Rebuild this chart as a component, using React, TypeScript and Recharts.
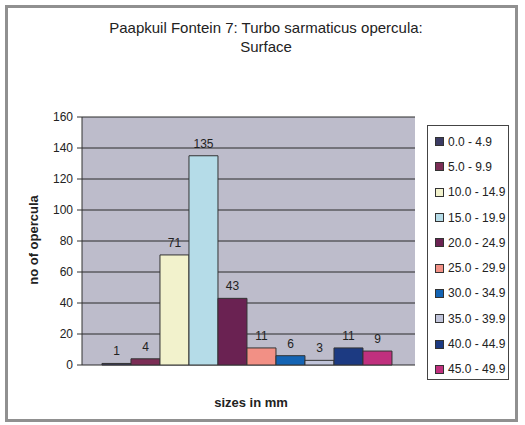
import React from "react";
import { BarChart, Bar, XAxis, YAxis, CartesianGrid, Legend, LabelList } from "recharts";

const sizeClasses = [
  "0.0 - 4.9",
  "5.0 - 9.9",
  "10.0 - 14.9",
  "15.0 - 19.9",
  "20.0 - 24.9",
  "25.0 - 29.9",
  "30.0 - 34.9",
  "35.0 - 39.9",
  "40.0 - 44.9",
  "45.0 - 49.9",
];
const counts = [1, 4, 71, 135, 43, 11, 6, 3, 11, 9];
const barColors = [
  "#3B3B63",
  "#7B2D55",
  "#F2F2CC",
  "#B5DCE8",
  "#6A2252",
  "#F29085",
  "#1464B4",
  "#C0C4DA",
  "#1C3A82",
  "#C0307E",
];
const yTicks = [0, 20, 40, 60, 80, 100, 120, 140, 160];

const row: Record<string, any> = { group: "Surface" };
sizeClasses.forEach((c, i) => {
  row[`s${i}`] = counts[i];
});
const data = [row];

const FONT = "Arial, 'Liberation Sans', sans-serif";

const renderLegend = (props: any) => {
  const payload = [...(props.payload || [])].sort(
    (a: any, b: any) => sizeClasses.indexOf(a.value) - sizeClasses.indexOf(b.value)
  );
  return (
    <div style={{ paddingTop: 3 }}>
      {payload.map((p: any, i: number) => (
        <div
          key={i}
          style={{
            height: 25.3,
            display: "flex",
            alignItems: "center",
            fontSize: 12,
            color: "#222",
            fontFamily: FONT,
            whiteSpace: "nowrap",
          }}
        >
          <span
            style={{
              display: "inline-block",
              width: 7,
              height: 7,
              background: p.color,
              border: "1px solid #333",
              marginLeft: 7,
              marginRight: 4,
            }}
          />
          {p.value}
        </div>
      ))}
    </div>
  );
};

export default function App() {
  return (
    <div
      style={{
        position: "absolute",
        left: 0,
        top: 0,
        width: 525,
        height: 425,
        background: "#fff",
        fontFamily: FONT,
      }}
    >
      <div
        style={{
          position: "absolute",
          left: 5,
          top: 5,
          width: 513,
          height: 417,
          border: "3px solid #909090",
          boxSizing: "border-box",
        }}
      />
      <div
        style={{
          position: "absolute",
          left: 66,
          top: 18,
          width: 400,
          textAlign: "center",
          fontSize: 15,
          lineHeight: "19px",
          color: "#222",
        }}
      >
        Paapkuil Fontein 7: Turbo sarmaticus opercula:
        <br />
        Surface
      </div>
      <div style={{ position: "absolute", left: 0, top: 0 }}>
        <BarChart
          width={525}
          height={425}
          data={data}
          margin={{ top: 117, right: 110, bottom: 60, left: 42 }}
          barCategoryGap="6%"
          barGap={0}
        >
          <CartesianGrid vertical={false} stroke="#2a2a2a" fill="#BDBCCB" fillOpacity={1} />
          <XAxis dataKey="group" tick={false} tickLine={false} height={0} axisLine={{ stroke: "#333" }} />
          <YAxis
            domain={[0, 160]}
            ticks={yTicks}
            interval={0}
            width={40}
            tickSize={5}
            tickMargin={4}
            tick={{ fontSize: 12, fill: "#222", fontFamily: FONT }}
            tickLine={{ stroke: "#333" }}
            axisLine={{ stroke: "#333" }}
          />
          <YAxis
            yAxisId="right"
            orientation="right"
            domain={[0, 160]}
            width={0}
            tick={false}
            tickLine={false}
            axisLine={{ stroke: "#222" }}
          />
          <Legend
            layout="vertical"
            align="center"
            verticalAlign="middle"
            itemSorter="dataKey"
            content={renderLegend}
            wrapperStyle={{
              position: "absolute",
              left: 427,
              top: 125,
              width: 82,
              height: 255,
              border: "1px solid #444",
              background: "#fff",
              boxSizing: "border-box",
            }}
          />
          {sizeClasses.map((c, i) => (
            <Bar
              key={c}
              dataKey={`s${i}`}
              name={c}
              fill={barColors[i]}
              stroke="#333"
              strokeWidth={1}
              isAnimationActive={false}
            >
              <LabelList
                dataKey={`s${i}`}
                position="top"
                offset={8}
                fontSize={12}
                fill="#222"
                fontFamily={FONT}
              />
            </Bar>
          ))}
        </BarChart>
      </div>
      <div
        style={{
          position: "absolute",
          left: 33,
          top: 240,
          transform: "translate(-50%, -50%) rotate(-90deg)",
          fontSize: 13,
          fontWeight: "bold",
          color: "#222",
          whiteSpace: "nowrap",
        }}
      >
        no of opercula
      </div>
      <div
        style={{
          position: "absolute",
          left: 251,
          top: 402,
          transform: "translate(-50%, -50%)",
          fontSize: 13,
          fontWeight: "bold",
          color: "#222",
          whiteSpace: "nowrap",
        }}
      >
        sizes in mm
      </div>
    </div>
  );
}
